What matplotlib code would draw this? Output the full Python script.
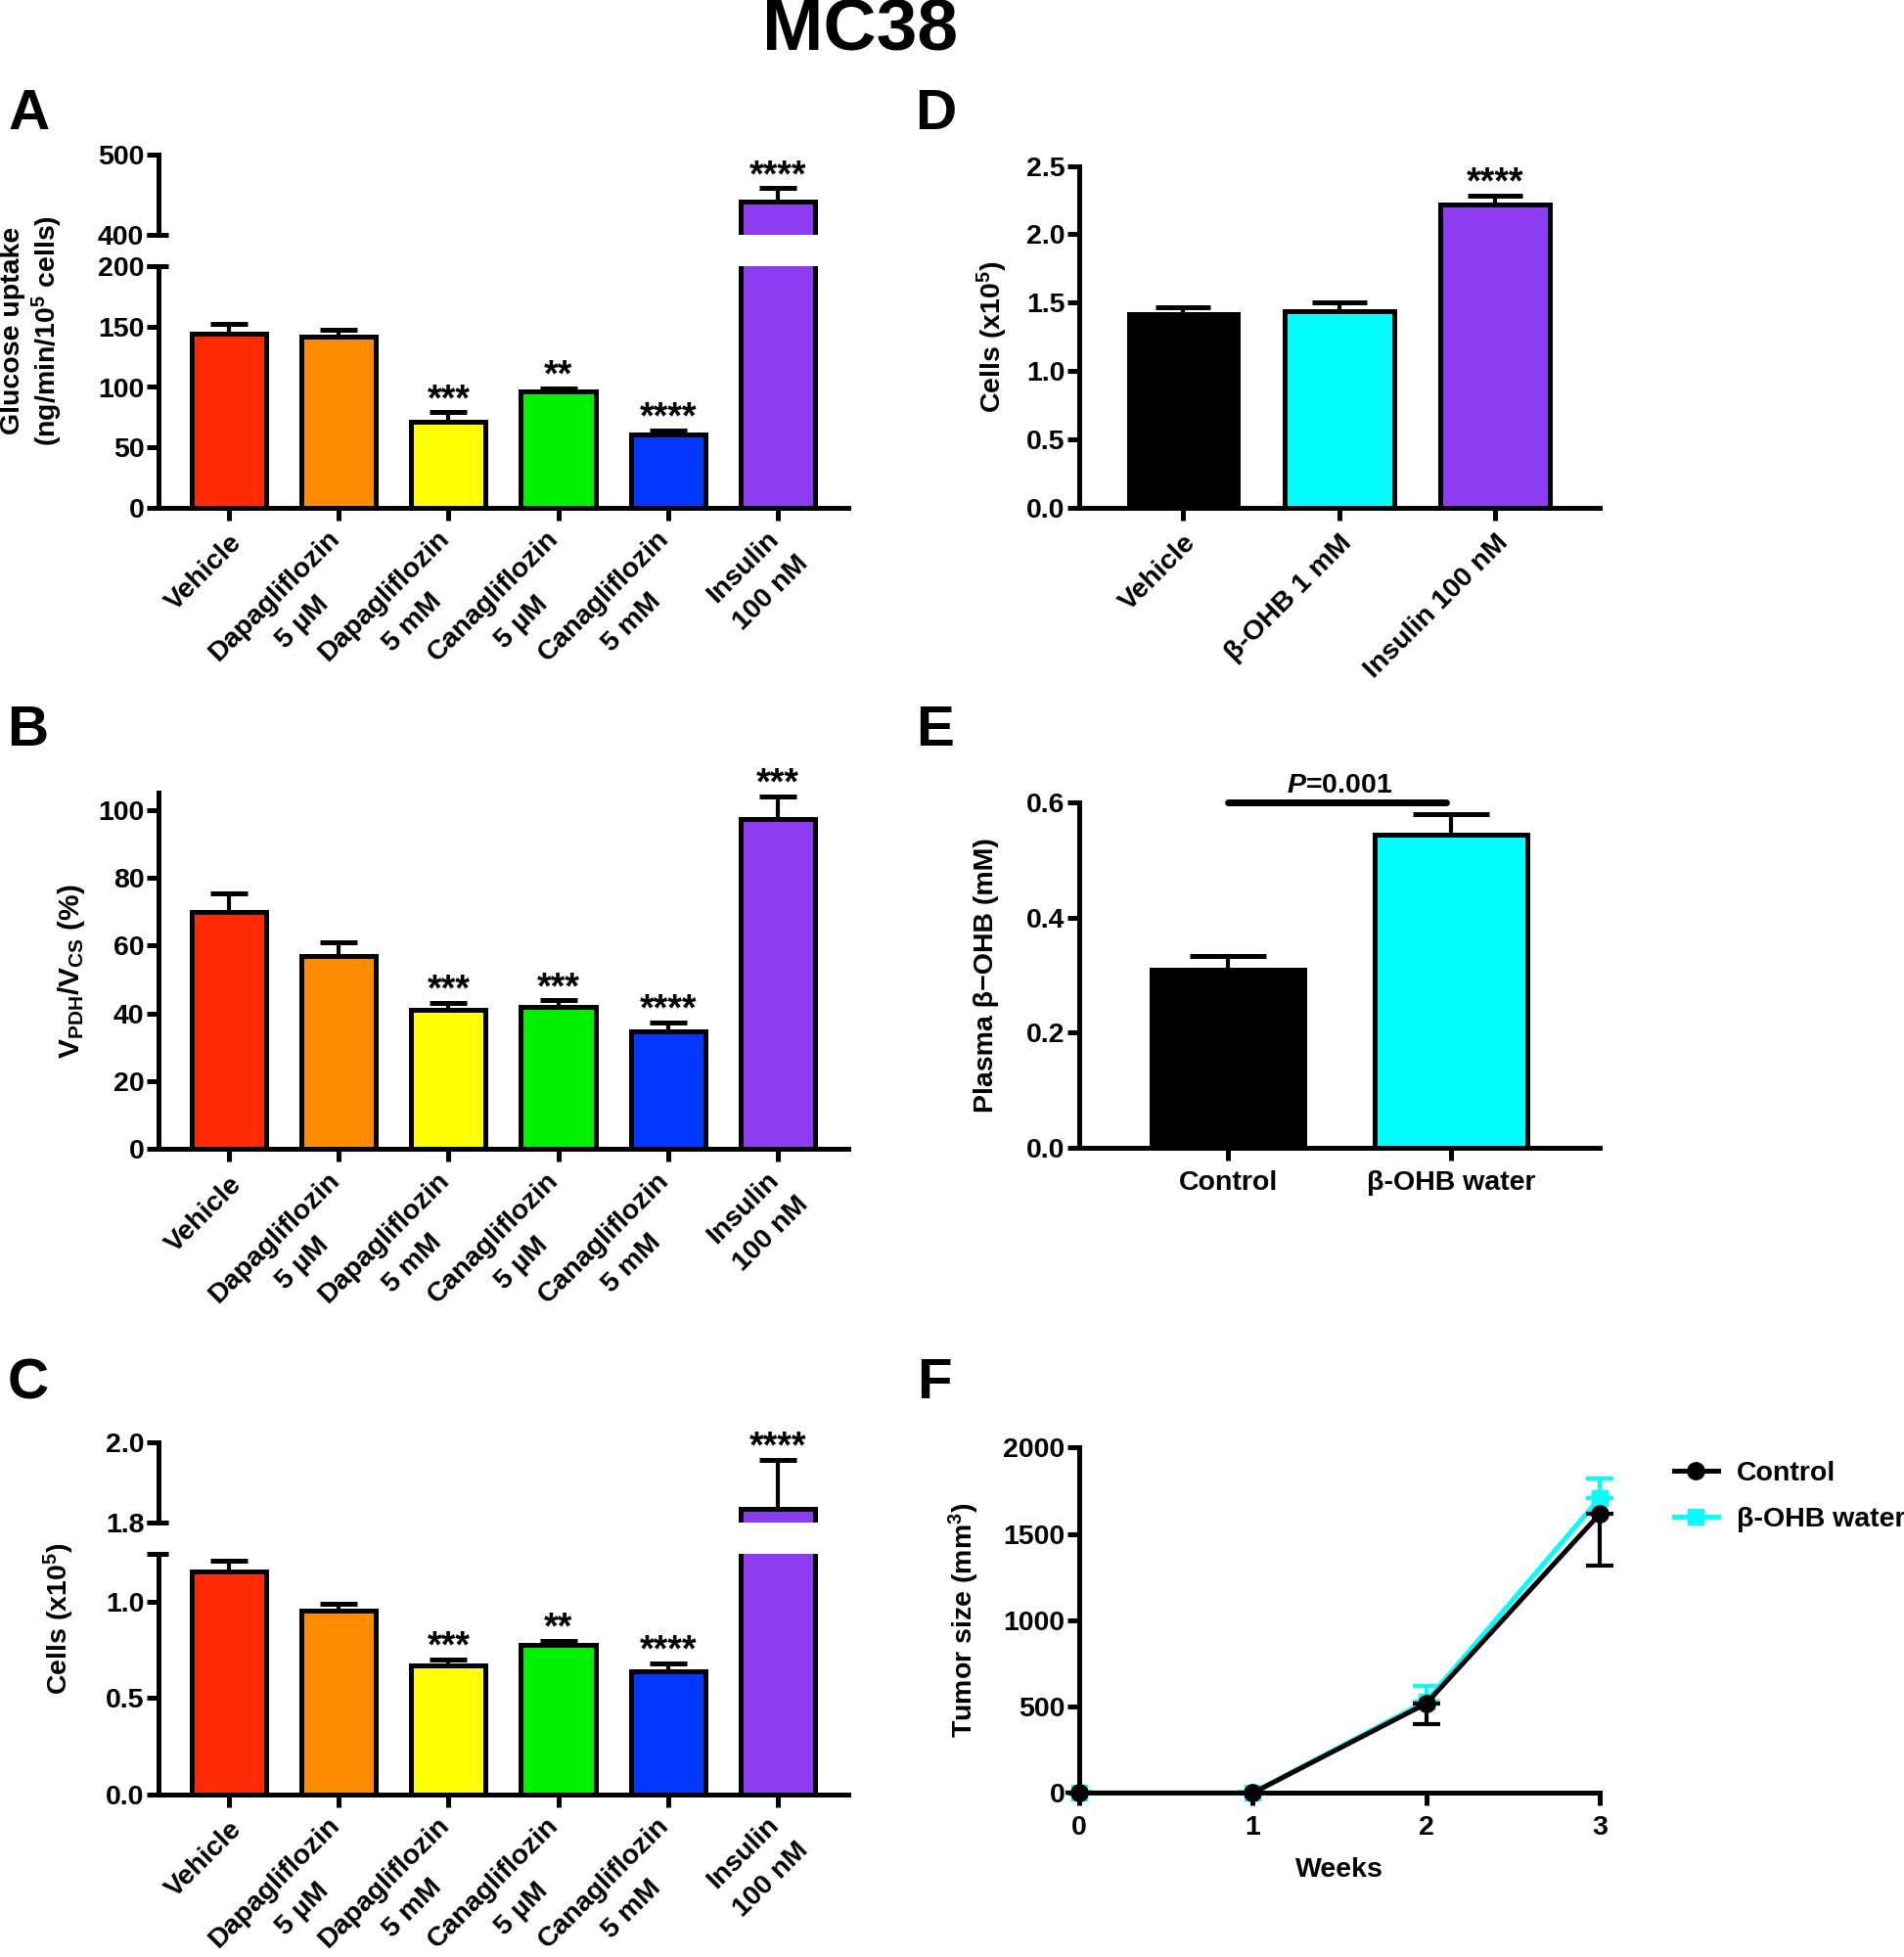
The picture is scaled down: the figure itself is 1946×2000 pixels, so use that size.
import numpy as np
import matplotlib.pyplot as plt
from matplotlib.lines import Line2D
from matplotlib.textpath import TextPath
from matplotlib.font_manager import FontProperties

plt.rcParams['font.family'] = ['Liberation Sans', 'DejaVu Sans']
plt.rcParams['font.weight'] = 'bold'
plt.rcParams['axes.labelweight'] = 'bold'
plt.rcParams['mathtext.fontset'] = 'custom'
plt.rcParams['mathtext.rm'] = 'Liberation Sans:bold'
plt.rcParams['mathtext.bf'] = 'Liberation Sans:bold'
plt.rcParams['mathtext.it'] = 'Liberation Sans:bold:italic'
plt.rcParams['mathtext.default'] = 'rm'

# ---------------- data ----------------
drug_labels = ["Vehicle", "Dapagliflozin\n5 µM", "Dapagliflozin\n5 mM",
               "Canagliflozin\n5 µM", "Canagliflozin\n5 mM", "Insulin\n100 nM"]
drug_colors = ["#FF2A00", "#FF8C00", "#FFFF00", "#00F000", "#0038FF", "#8E3CF2"]

glucose = [144, 142, 71, 96, 61, 442]
glucose_err = [8, 5, 8, 3, 3, 16]
glucose_stars = ["", "", "***", "**", "****", "****"]

pdh_cs = [70, 57, 41, 42, 34.6, 97.4]
pdh_cs_err = [5.5, 4, 2, 1.8, 2.6, 6.5]
pdh_stars = ["", "", "***", "***", "****", "***"]

cells_c = [1.155, 0.955, 0.67, 0.774, 0.64, 1.834]
cells_c_err = [0.055, 0.035, 0.03, 0.02, 0.04, 0.122]
cells_c_stars = ["", "", "***", "**", "****", "****"]

d_labels = ["Vehicle", "β-OHB 1 mM", "Insulin 100 nM"]
d_colors = ["#000000", "#00FFFF", "#8E3CF2"]
cells_d = [1.414, 1.44, 2.217]
cells_d_err = [0.056, 0.06, 0.065]
cells_d_stars = ["", "", "****"]

e_labels = ["Control", "β-OHB water"]
e_colors = ["#000000", "#00FFFF"]
plasma = [0.31, 0.544]
plasma_err = [0.024, 0.036]

weeks = [0, 1, 2, 3]
tumor_control = [0, 0, 518, 1615]
tumor_control_err = [0, 0, 117, 297]
tumor_ohb = [0, 0, 530, 1706]
tumor_ohb_err = [0, 0, 88, 112]

LW = 3.6
FS = 20.5     # axis labels
TFS = 20.5    # tick labels
XFS = 20.5    # category labels
SFS = 27      # stars

fig = plt.figure(figsize=(19.46, 20), dpi=100)
label_font = FontProperties(family="Liberation Sans", weight="bold")


def style(ax, bottom=True):
    for s in ["top", "right"]:
        ax.spines[s].set_visible(False)
    ax.spines["left"].set_linewidth(LW)
    ax.spines["bottom"].set_linewidth(LW)
    if not bottom:
        ax.spines["bottom"].set_visible(False)
        ax.tick_params(axis="x", bottom=False, labelbottom=False)
    ax.tick_params(axis="y", length=8.5, width=LW, labelsize=TFS, pad=2)
    ax.tick_params(axis="x", length=9.5, width=LW, labelsize=TFS, pad=7)


def draw_bars(ax, vals, errs, colors, stars=None, star_range=(-np.inf, np.inf),
              width=0.68, capsize=14):
    x = np.arange(len(vals))
    ax.bar(x, vals, width=width, color=colors, edgecolor="black", linewidth=3.6, zorder=2)
    ax.errorbar(x, vals, yerr=[np.zeros(len(errs)), errs], fmt="none", ecolor="black",
                elinewidth=3, capsize=capsize, capthick=3.6, zorder=3)
    if stars:
        for xi, v, e, s in zip(x, vals, errs, stars):
            if s and star_range[0] < v + e <= star_range[1]:
                ax.annotate(s, (xi, v + e), xytext=(0, -4), textcoords="offset points",
                            ha="center", va="bottom", fontsize=SFS, fontweight="bold",
                            annotation_clip=False)


def break_mark(ax, y, left=-0.017):
    ax.plot([left, 0.014], [y, y], color="black", lw=LW,
            transform=ax.get_yaxis_transform(), clip_on=False, solid_capstyle="butt")


def rotated_labels(ax, labels):
    # 45 degree labels, one text per line; a second line is centred under the first
    ax.set_xticks(np.arange(len(labels)))
    ax.set_xticklabels([])
    c = np.cos(np.pi / 4)
    for i, lab in enumerate(labels):
        lines = lab.split("\n")
        two = len(lines) > 1
        x1, y1 = (-9, -13.5) if two else (0, -16.5)
        ax.annotate(lines[0], (i, 0), xycoords=("data", "axes fraction"),
                    xytext=(x1, y1), textcoords="offset points",
                    rotation=45, ha="right", va="top", rotation_mode="anchor",
                    fontsize=XFS, fontweight="bold", annotation_clip=False)
        if two:
            w1 = TextPath((0, 0), lines[0], size=XFS, prop=label_font).get_extents().width
            perp = 0.58 * XFS + 1.25 * XFS   # centre of line 2 below top of line 1
            x2 = x1 - w1 / 2 * c + perp * c
            y2 = y1 - w1 / 2 * c - perp * c
            ax.annotate(lines[1], (i, 0), xycoords=("data", "axes fraction"),
                        xytext=(x2, y2), textcoords="offset points",
                        rotation=45, ha="center", va="center", rotation_mode="anchor",
                        fontsize=XFS, fontweight="bold", annotation_clip=False)


L, W = 0.0832, 0.3623
xlim6 = (-0.64, 5.64)

# ---------------- A ----------------
axA = fig.add_axes([L, 0.7405, W, 0.1235])
axA2 = fig.add_axes([L, 0.88, W, 0.041])
draw_bars(axA, glucose, glucose_err, drug_colors, glucose_stars, (-np.inf, 200))
draw_bars(axA2, glucose, glucose_err, drug_colors, glucose_stars, (200, np.inf))
axA.set_ylim(0, 200)
axA.set_yticks([0, 50, 100, 150, 200])
axA2.set_ylim(400, 500)
axA2.set_yticks([400, 500])
for ax in (axA, axA2):
    ax.set_xlim(*xlim6)
style(axA)
style(axA2, bottom=False)
rotated_labels(axA, drug_labels)
break_mark(axA, 200)
break_mark(axA2, 400)
fig.text(0.017, 0.831, "Glucose uptake\n(ng/min/10$^5$ cells)", rotation=90,
         ha="center", va="center", fontsize=FS, multialignment="center")

# ---------------- B ----------------
axB = fig.add_axes([L, 0.4128, W, 0.1821])
draw_bars(axB, pdh_cs, pdh_cs_err, drug_colors, pdh_stars)
axB.set_xlim(*xlim6)
axB.set_ylim(0, 105)
axB.set_yticks([0, 20, 40, 60, 80, 100])
style(axB)
rotated_labels(axB, drug_labels)
axB.set_ylabel("V$_{PDH}$/V$_{CS}$ (%)", fontsize=FS + 1, labelpad=8)

# ---------------- C ----------------
axC = fig.add_axes([L, 0.0831, W, 0.1231])
axC2 = fig.add_axes([L, 0.2222, W, 0.0408])
draw_bars(axC, cells_c, cells_c_err, drug_colors, cells_c_stars, (-np.inf, 1.25))
draw_bars(axC2, cells_c, cells_c_err, drug_colors, cells_c_stars, (1.25, np.inf))
axC.set_ylim(0, 1.25)
axC.set_yticks([0, 0.5, 1.0])
axC.set_yticklabels(["0.0", "0.5", "1.0"])
axC2.set_ylim(1.8, 2.0)
axC2.set_yticks([1.8, 2.0])
axC2.set_yticklabels(["1.8", "2.0"])
for ax in (axC, axC2):
    ax.set_xlim(*xlim6)
style(axC)
style(axC2, bottom=False)
rotated_labels(axC, drug_labels)
break_mark(axC, 1.25)
break_mark(axC2, 1.8)
fig.text(0.031, 0.173, "Cells (x10$^5$)", rotation=90, ha="center", va="center", fontsize=FS)

# ---------------- D ----------------
R, RW = 0.5668, 0.2734
axD = fig.add_axes([R, 0.7405, RW, 0.1747])
draw_bars(axD, cells_d, cells_d_err, d_colors, cells_d_stars, width=0.70, capsize=20)
axD.set_xlim(-0.667, 2.67)
axD.set_ylim(0, 2.5)
axD.set_yticks([0, 0.5, 1.0, 1.5, 2.0, 2.5])
axD.set_yticklabels(["0.0", "0.5", "1.0", "1.5", "2.0", "2.5"])
style(axD)
rotated_labels(axD, d_labels)
axD.set_ylabel("Cells (x10$^5$)", fontsize=FS, labelpad=12)

# ---------------- E ----------------
axE = fig.add_axes([R, 0.4134, RW, 0.1766])
draw_bars(axE, plasma, plasma_err, e_colors, width=0.685, capsize=28)
axE.set_xlim(-0.667, 1.667)
axE.set_ylim(0, 0.6)
axE.set_yticks([0, 0.2, 0.4, 0.6])
axE.set_yticklabels(["0.0", "0.2", "0.4", "0.6"])
style(axE)
axE.set_xticks(np.arange(2))
axE.set_xticklabels(e_labels, fontsize=XFS)
axE.plot([0, 0.98], [0.6, 0.6], color="black", lw=5, clip_on=False, solid_capstyle="round")
axE.text(0.5, 0.606, r"$\mathit{P}$=0.001", ha="center", va="bottom", fontsize=FS)
axE.set_ylabel("Plasma β−OHB (mM)", fontsize=FS, labelpad=20)

# ---------------- F ----------------
axF = fig.add_axes([R, 0.0838, RW, 0.1766])
axF.errorbar(weeks, tumor_ohb, yerr=[np.zeros(4), tumor_ohb_err], color="#00FFFF",
             marker="s", markersize=12, lw=3.6, elinewidth=3, capsize=10, capthick=3,
             clip_on=False, zorder=3)
axF.errorbar(weeks, tumor_control, yerr=[tumor_control_err, np.zeros(4)], color="black",
             marker="o", markersize=12.5, lw=3.6, elinewidth=3, capsize=10, capthick=3,
             clip_on=False, zorder=4)
axF.set_xlim(0, 3)
axF.set_ylim(0, 2000)
axF.set_xticks(weeks)
axF.set_yticks([0, 500, 1000, 1500, 2000])
style(axF)
axF.set_xlabel("Weeks", fontsize=FS, labelpad=12)
axF.set_ylabel("Tumor size (mm$^3$)", fontsize=FS, labelpad=16)
handles = [Line2D([], [], color="black", marker="o", markersize=12.5, lw=3.6),
           Line2D([], [], color="#00FFFF", marker="s", markersize=12, lw=3.6)]
axF.legend(handles, ["Control", "β-OHB water"], loc="upper left",
           bbox_to_anchor=(0.879, 0.2535), bbox_transform=fig.transFigure,
           frameon=False, fontsize=FS, handlelength=1.6, labelspacing=0.75,
           handletextpad=0.65, borderaxespad=0, borderpad=0)

# ---------------- titles ----------------
fig.text(0.4517, 0.9845, "MC38", ha="center", va="center", fontsize=54)
for letter, (x, y) in {"A": (0.0154, 0.9415), "B": (0.0144, 0.6265), "C": (0.0149, 0.293),
                       "D": (0.4913, 0.9415), "E": (0.4908, 0.6265), "F": (0.4908, 0.293)}.items():
    fig.text(x, y, letter, ha="center", va="center", fontsize=42)

fig.savefig("out.png", dpi=100)
